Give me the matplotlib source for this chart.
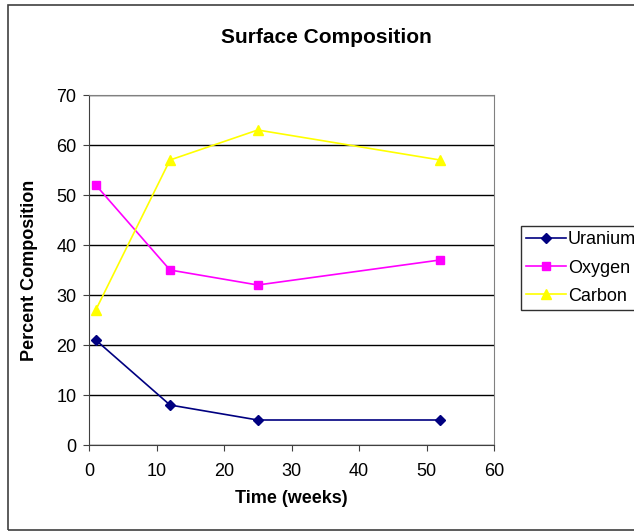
import matplotlib
matplotlib.use('Agg')
import matplotlib.pyplot as plt
from matplotlib.patches import Rectangle

plt.rcParams['font.family'] = ['Liberation Sans', 'DejaVu Sans']

# data
weeks = [1, 12, 25, 52]
uranium = [21, 8, 5, 5]
oxygen = [52, 35, 32, 37]
carbon = [27, 57, 63, 57]

W, H = 634, 531
fig = plt.figure(figsize=(W / 100, H / 100), dpi=100)

# outer chart border (runs off the right edge)
fig.patches.append(Rectangle((8 / W, 1 / H), 640 / W, 525 / H, transform=fig.transFigure,
                             fill=False, edgecolor='#404040', linewidth=1.2))

ax = fig.add_axes([89 / W, (H - 445) / H, (494 - 89) / W, (445 - 95) / H])

ax.plot(weeks, uranium, color='#000080', marker='D', markersize=5.5, linewidth=1.2, label='Uranium')
ax.plot(weeks, oxygen, color='#FF00FF', marker='s', markersize=5.5, linewidth=1.2, label='Oxygen')
ax.plot(weeks, carbon, color='#FFFF00', marker='^', markersize=7, linewidth=1.2, label='Carbon')

ax.set_xlim(0, 60)
ax.set_ylim(0, 70)
ax.set_xticks(range(0, 61, 10))
ax.set_yticks(range(0, 71, 10))
ax.yaxis.grid(True, color='black', linewidth=1)
ax.set_axisbelow(True)
for s in ax.spines.values():
    s.set_color('#808080')
ax.spines['left'].set_color('#404040')
ax.spines['bottom'].set_color('#404040')
ax.tick_params(labelsize=13, length=4, direction='out', color='#404040', pad=5)
ax.tick_params(axis='x', pad=9)

ax.set_xlabel('Time (weeks)', fontsize=13, fontweight='bold', labelpad=7)
ax.set_ylabel('Percent Composition', fontsize=13, fontweight='bold', labelpad=13)
fig.text(326 / W, 1 - 37 / H, 'Surface Composition', ha='center', va='center',
         fontsize=15, fontweight='bold')

fig.legend(loc='upper left', bbox_to_anchor=(521 / W, 1 - 226 / H), fontsize=13,
           frameon=True, fancybox=False, edgecolor='#303030', framealpha=1,
           handlelength=2.2, borderpad=0.3, labelspacing=0.62, handletextpad=0.1,
           borderaxespad=0)

fig.savefig('out.png', dpi=100)
